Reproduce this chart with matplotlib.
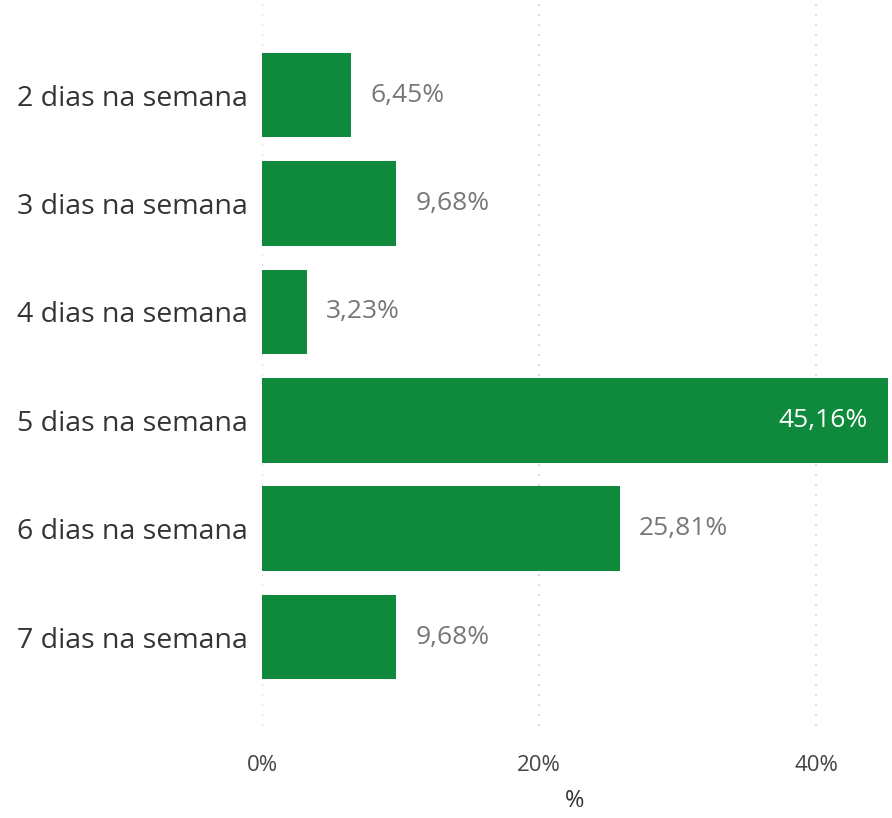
import matplotlib
matplotlib.use("Agg")
import matplotlib.pyplot as plt
from matplotlib.ticker import FuncFormatter

categories = ["2 dias na semana", "3 dias na semana", "4 dias na semana",
              "5 dias na semana", "6 dias na semana", "7 dias na semana"]
values = [6.45, 9.68, 3.23, 45.16, 25.81, 9.68]
value_labels = ["6,45%", "9,68%", "3,23%", "45,16%", "25,81%", "9,68%"]
ticks = [0, 20, 40]

plt.rcParams['font.family'] = ['Open Sans', 'DejaVu Sans']

fig = plt.figure(figsize=(8.92, 8.18), dpi=100)
ax = fig.add_axes([0.2937, 0.1125, 0.7018, 0.8838])
color = "#0F8A3C"
y = list(range(len(categories)))
ax.barh(y, values, height=0.78, color=color, zorder=2)
ax.set_xlim(0, 45.16)
ax.set_ylim(5.82, -0.85)
ax.set_yticks(y)
ax.set_yticklabels(categories, fontsize=20.5, color="#333333")
ax.set_xticks(ticks)
ax.xaxis.set_major_formatter(FuncFormatter(lambda v, p: f"{int(v)}%"))
ax.tick_params(axis='x', labelsize=16, colors="#444444", length=0, pad=21)
ax.tick_params(axis='y', length=0, pad=10)
for s in ax.spines.values():
    s.set_visible(False)
ax.grid(axis='x', linestyle=(0, (1, 5)), color="#cccccc", linewidth=1.2, zorder=0)
ax.set_xlabel("%", fontsize=17, color="#333333", labelpad=9)

for yi, v, lab in zip(y, values, value_labels):
    if v > 40:
        ax.annotate(lab, (v, yi), xytext=(-14.5, 0), textcoords="offset points",
                    ha="right", va="center", fontsize=19, color="white")
    else:
        ax.annotate(lab, (v, yi), xytext=(14, 0), textcoords="offset points",
                    ha="left", va="center", fontsize=19, color="#777777")

fig.savefig("out.png", dpi=100)
